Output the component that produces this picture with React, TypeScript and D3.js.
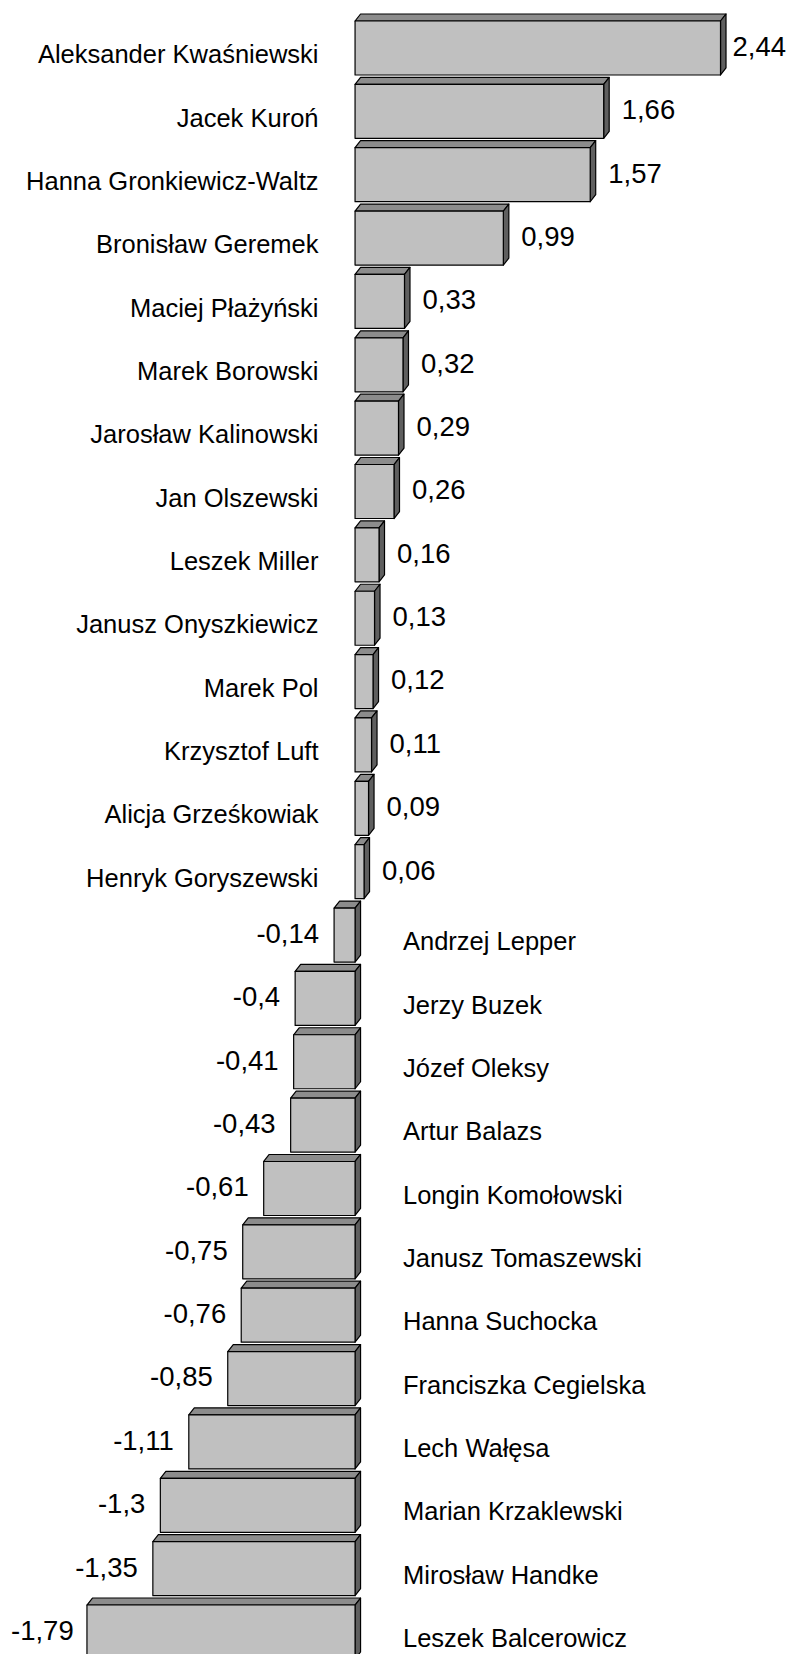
import * as d3 from 'd3';
import React, { useEffect, useRef } from 'react';

const names = [
  'Aleksander Kwaśniewski', 'Jacek Kuroń', 'Hanna Gronkiewicz-Waltz', 'Bronisław Geremek',
  'Maciej Płażyński', 'Marek Borowski', 'Jarosław Kalinowski', 'Jan Olszewski',
  'Leszek Miller', 'Janusz Onyszkiewicz', 'Marek Pol', 'Krzysztof Luft',
  'Alicja Grześkowiak', 'Henryk Goryszewski', 'Andrzej Lepper', 'Jerzy Buzek',
  'Józef Oleksy', 'Artur Balazs', 'Longin Komołowski', 'Janusz Tomaszewski',
  'Hanna Suchocka', 'Franciszka Cegielska', 'Lech Wałęsa', 'Marian Krzaklewski',
  'Mirosław Handke', 'Leszek Balcerowicz',
];

const values = [
  2.44, 1.66, 1.57, 0.99, 0.33, 0.32, 0.29, 0.26, 0.16, 0.13, 0.12, 0.11, 0.09, 0.06,
  -0.14, -0.4, -0.41, -0.43, -0.61, -0.75, -0.76, -0.85, -1.11, -1.3, -1.35, -1.79,
];

const xDomain = [-2, 2.5];

export default function App() {
  const ref = useRef<SVGSVGElement>(null);

  useEffect(() => {
    const width = 791;
    const height = 1654;
    const dx = 5.5; // 3d depth
    const dy = 7;
    const font = '"Liberation Sans", Arial, sans-serif';

    const svg = d3.select(ref.current);
    svg.selectAll('*').remove();
    svg.attr('width', width).attr('height', height);

    const x = d3.scaleLinear().domain(xDomain).range([55.5, 729.5]);
    const y = d3.scaleBand<string>()
      .domain(names)
      .range([21, 1659])
      .paddingInner(0.148)
      .paddingOuter(0);

    const bw = y.bandwidth();
    const data = names.map((n, i) => ({ name: n, value: values[i] }));

    const g = svg.append('g')
      .attr('stroke', '#000')
      .attr('stroke-width', 1.2)
      .attr('stroke-linejoin', 'round');

    data.forEach((d) => {
      const x0 = x(Math.min(0, d.value));
      const x1 = x(Math.max(0, d.value));
      const t = y(d.name)!;
      const b = t + bw;

      // top face
      g.append('path')
        .attr('d', `M${x0},${t}L${x0 + dx},${t - dy}L${x1 + dx},${t - dy}L${x1},${t}Z`)
        .attr('fill', '#8c8c8c');
      // side face
      g.append('path')
        .attr('d', `M${x1},${t}L${x1 + dx},${t - dy}L${x1 + dx},${b - dy}L${x1},${b}Z`)
        .attr('fill', '#5f5f5f');
      // front face
      g.append('rect')
        .attr('x', x0)
        .attr('y', t)
        .attr('width', x1 - x0)
        .attr('height', bw)
        .attr('fill', '#c0c0c0');
    });

    // category labels
    svg.append('g')
      .selectAll('text')
      .data(data)
      .join('text')
      .attr('x', (d) => (d.value >= 0 ? 318.5 : 403))
      .attr('y', (d) => y(d.name)! + bw / 2 + 6)
      .attr('dy', '0.36em')
      .attr('text-anchor', (d) => (d.value >= 0 ? 'end' : 'start'))
      .attr('font-family', font)
      .attr('font-size', 25.5)
      .attr('fill', '#000')
      .text((d) => d.name);

    // value labels
    const labels = svg.append('g')
      .selectAll('text')
      .data(data)
      .join('text')
      .attr('y', (d) => y(d.name)! + bw / 2 - 2)
      .attr('dy', '0.36em')
      .attr('font-family', font)
      .attr('font-size', 27.5)
      .attr('fill', '#000')
      .text((d) => String(d.value).replace('.', ','));

    labels.each(function (d) {
      const node = this as SVGTextElement;
      const w = node.getComputedTextLength();
      let left = d.value >= 0 ? x(d.value) + 18 : x(d.value) - 15 - w;
      left = Math.max(11, Math.min(width - 5 - w, left));
      d3.select(node).attr('x', left);
    });
  }, []);

  return (
    <svg
      ref={ref}
      style={{ position: 'absolute', left: 0, top: 0, display: 'block', background: '#fff' }}
    />
  );
}
